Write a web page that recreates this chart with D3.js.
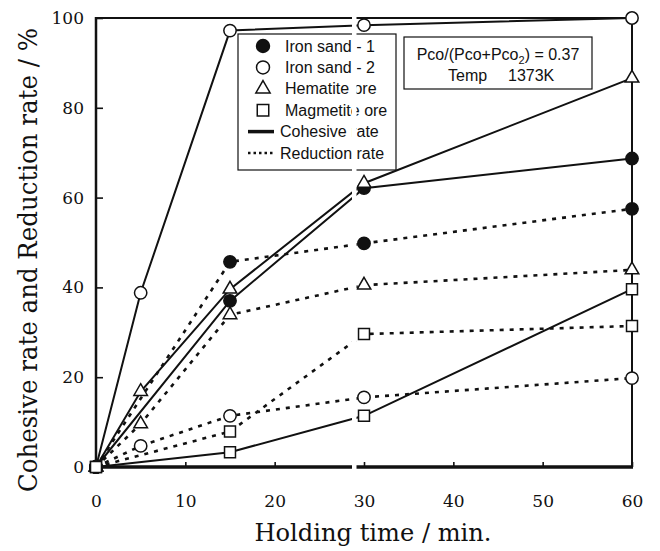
<!DOCTYPE html>
<html lang="en">
<head>
<meta charset="utf-8" />
<title>Cohesive rate and Reduction rate</title>
<script src="https://d3js.org/d3.v7.min.js"></script>
<style>
    body { margin: 0; background: #fff; }
    svg { display: block; }
    .tick text { font-family: 'DejaVu Serif', serif; font-size: 17px; fill: #111; }
    .axis-title { font-family: 'DejaVu Serif', serif; fill: #111; }
    .legend text, .note text { font-family: 'Liberation Sans', Arial, sans-serif; font-size: 16px; fill: #111; }
</style>
</head>
<body>
<script>
    // Holding times (min.)
    const times = [0, 5, 15, 30, 60];

    const iron1Cohesive  = [0, null, 37.0, 62.1, 68.7];
    const iron1Reduction = [0, null, 45.7, 49.8, 57.5];
    const iron2Cohesive  = [0, 38.8, 97.2, 98.4, 100];
    const iron2Reduction = [0, 4.7, 11.4, 15.5, 19.8];
    const hemCohesive    = [0, 16.8, 39.6, 63.2, 86.6];
    const hemReduction   = [0, 9.6, 33.9, 40.5, 43.9];
    const magCohesive    = [0, null, 3.3, 11.4, 39.6];
    const magReduction   = [0, null, 7.9, 29.6, 31.4];

    const xTicks = [0, 10, 20, 30, 40, 50, 60];
    const yTicks = [0, 20, 40, 60, 80, 100];
    const legendNames = ["Iron sand - 1", "Iron sand - 2", "Hematite ore", "Magmetite ore"];

    const series = [
        { symbol: d3.symbolCircle, filled: true, cohesive: iron1Cohesive, reduction: iron1Reduction },
        { symbol: d3.symbolCircle, filled: false, cohesive: iron2Cohesive, reduction: iron2Reduction },
        { symbol: d3.symbolTriangle, filled: false, cohesive: hemCohesive, reduction: hemReduction },
        { symbol: d3.symbolSquare, filled: false, cohesive: magCohesive, reduction: magReduction }
    ];
    const symbolSize = s => s === d3.symbolCircle ? 120 : s === d3.symbolTriangle ? 80 : 120;

    const width = 660, height = 551;
    const svg = d3.select("body").append("svg")
        .attr("width", width)
        .attr("height", height);

    const x = d3.scaleLinear().domain([0, 60]).range([96, 632]);
    const y = d3.scaleLinear().domain([0, 100]).range([467, 18]);

    // Axes with inward ticks
    const yAxis = svg.append("g")
        .attr("transform", `translate(${x(0)},0)`)
        .call(d3.axisLeft(y).tickValues(yTicks).tickSizeInner(-7).tickSizeOuter(0).tickPadding(12));
    const xAxis = svg.append("g")
        .attr("transform", `translate(0,${y(0)})`)
        .call(d3.axisBottom(x).tickValues(xTicks).tickSizeInner(-5).tickSizeOuter(0).tickPadding(28));
    [xAxis, yAxis].forEach(a => {
        a.select(".domain").remove();
        a.selectAll(".tick line").attr("stroke", "#111").attr("stroke-width", 1.6);
    });

    // Frame
    const frame = svg.append("g").attr("stroke", "#111").attr("fill", "none");
    frame.append("line").attr("x1", x(0)).attr("x2", x(60)).attr("y1", y(100)).attr("y2", y(100)).attr("stroke-width", 2);
    frame.append("line").attr("x1", x(60)).attr("x2", x(60)).attr("y1", y(100)).attr("y2", y(0)).attr("stroke-width", 2);
    frame.append("line").attr("x1", x(0)).attr("x2", x(0)).attr("y1", y(100) - 1).attr("y2", y(0) + 1).attr("stroke-width", 2.5);
    frame.append("line").attr("x1", x(0) - 1).attr("x2", x(60) + 1).attr("y1", y(0)).attr("y2", y(0)).attr("stroke-width", 3.5);

    // Lines
    const line = d3.line().x(d => x(d[0])).y(d => y(d[1]));
    const pts = vals => times.map((t, i) => [t, vals[i]]).filter(p => p[1] != null);

    series.forEach(s => {
        svg.append("path").attr("d", line(pts(s.reduction)))
            .attr("fill", "none").attr("stroke", "#111")
            .attr("stroke-width", 2.6).attr("stroke-dasharray", "4 6");
        svg.append("path").attr("d", line(pts(s.cohesive)))
            .attr("fill", "none").attr("stroke", "#111").attr("stroke-width", 2);
    });

    // Legend
    const legend = svg.append("g").attr("class", "legend");
    legend.append("rect").attr("x", 238).attr("y", 34).attr("width", 158).attr("height", 136)
        .attr("fill", "#fff").attr("stroke", "#111").attr("stroke-width", 1.2);
    const rowY = i => 46 + i * 21.4;
    series.forEach((s, i) => {
        legend.append("path")
            .attr("transform", `translate(263,${rowY(i)})`)
            .attr("d", d3.symbol().type(s.symbol).size(symbolSize(s.symbol) * 1.1)())
            .attr("fill", s.filled ? "#111" : "#fff").attr("stroke", "#111").attr("stroke-width", 1.5);
        legend.append("text").attr("x", 285).attr("y", rowY(i)).attr("dy", "0.35em").text(legendNames[i]);
    });
    legend.append("line").attr("x1", 248).attr("x2", 274).attr("y1", rowY(4)).attr("y2", rowY(4))
        .attr("stroke", "#111").attr("stroke-width", 3.5);
    legend.append("text").attr("x", 280).attr("y", rowY(4)).attr("dy", "0.35em").text("Cohesive rate");
    legend.append("line").attr("x1", 248).attr("x2", 274).attr("y1", rowY(5)).attr("y2", rowY(5))
        .attr("stroke", "#111").attr("stroke-width", 2.5).attr("stroke-dasharray", "2.5 3");
    legend.append("text").attr("x", 280).attr("y", rowY(5)).attr("dy", "0.35em").text("Reduction rate");

    // Condition note
    const note = svg.append("g").attr("class", "note");
    note.append("rect").attr("x", 404).attr("y", 37).attr("width", 188).attr("height", 52)
        .attr("fill", "#fff").attr("stroke", "#111").attr("stroke-width", 1.2);
    const t1 = note.append("text").attr("x", 498).attr("y", 60).attr("text-anchor", "middle");
    t1.append("tspan").text("Pco/(Pco+Pco");
    t1.append("tspan").attr("font-size", "11px").attr("dy", 4).text("2");
    t1.append("tspan").attr("dy", -4).text(") = 0.37");
    note.append("text").attr("x", 448).attr("y", 81).text("Temp");
    note.append("text").attr("x", 508).attr("y", 81).text("1373K");

    // Markers
    series.forEach(s => {
        [s.reduction, s.cohesive].forEach(vals => {
            svg.selectAll(null).data(pts(vals)).enter().append("path")
                .attr("transform", d => `translate(${x(d[0])},${y(d[1])})`)
                .attr("d", d3.symbol().type(s.symbol).size(symbolSize(s.symbol)))
                .attr("fill", s.filled ? "#111" : "#fff")
                .attr("stroke", "#111").attr("stroke-width", 1.5);
        });
    });

    // Scan break seen in the original figure
    svg.append("rect").attr("x", 352).attr("y", 14).attr("width", 4.5).attr("height", 457).attr("fill", "#fff");

    // Axis titles
    svg.append("text").attr("class", "axis-title")
        .attr("x", 373).attr("y", 541).attr("text-anchor", "middle")
        .attr("font-size", 24).attr("textLength", 237).attr("lengthAdjust", "spacingAndGlyphs")
        .text("Holding time / min.");
    svg.append("text").attr("class", "axis-title")
        .attr("transform", "translate(37,260) rotate(-90)").attr("text-anchor", "middle")
        .attr("font-size", 26).attr("textLength", 464).attr("lengthAdjust", "spacingAndGlyphs")
        .text("Cohesive rate and Reduction rate / %");
</script>
</body>
</html>
